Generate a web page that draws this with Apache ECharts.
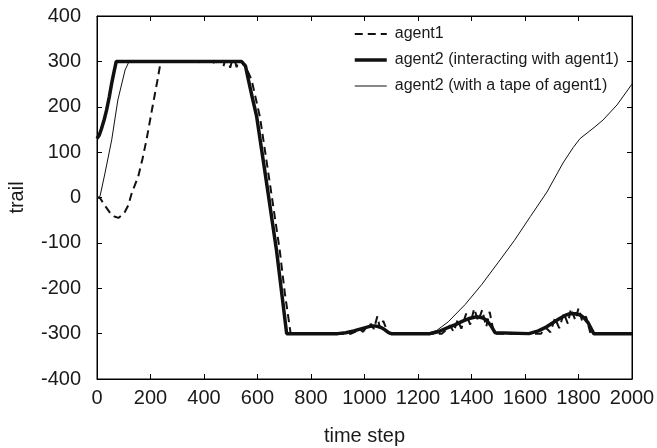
<!DOCTYPE html>
<html><head><meta charset="utf-8">
<script src="https://cdn.jsdelivr.net/npm/echarts@6/dist/echarts.min.js"></script>
<style>html,body{margin:0;padding:0;background:#fff}#c{width:657px;height:448px}</style>
</head><body><div id="c"></div>
<script>
// ---- data ----
const seriesNames = ['agent1', 'agent2 (interacting with agent1)', 'agent2 (with a tape of agent1)'];
const xTicks = [0,200,400,600,800,1000,1200,1400,1600,1800,2000];
const yTicks = [-400,-300,-200,-100,0,100,200,300,400];

const agent1T = [0,11,30,49,65,80,95,105,117,130,154,170,185,210,225,236,242,
  372,378,384,405,410,416,436,441,447,466,472,478,492,498,504,516,522,528,540,548,556,578,609,646,683,702,724,
  950,965,980,995,1010,1025,1035,1048,1058,1070,1085,1095,
  1290,1305,1320,1333,1348,1362,1380,1395,1410,1425,1440,1455,1468,1484,
  1660,1678,1695,1712,1728,1745,1760,1772,1788,1800,1815,1828,1845,2000];
const agent1V = [0,-1,-18,-34,-42,-45,-38,-31,-17,10,46,85,127,208,255,292,300,
  300,295,300,300,294,300,300,291,300,300,288,300,300,286,300,300,287,300,300,292,288,259,178,32,-116,-210,-300,
  -300,-296,-290,-296,-283,-279,-290,-262,-288,-272,-294,-300,
  -300,-292,-282,-296,-270,-289,-256,-280,-245,-272,-248,-285,-252,-300,
  -300,-287,-297,-266,-288,-255,-278,-245,-270,-244,-275,-262,-300,-300];

const agent2T = [0,8,17,27,36,46,55,64,72,
  540,555,566,580,597,615,634,652,671,690,709,
  900,930,960,990,1020,1040,1060,1075,1090,1100,
  1245,1275,1307,1340,1369,1395,1419,1440,1456,1472,1488,1495,
  1615,1650,1681,1710,1731,1750,1768,1790,1806,1822,1837,1850,1857,2000];
const agent2V = [130,137,152,172,193,222,252,278,300,
  300,290,259,222,178,107,32,-40,-116,-208,-300,
  -300,-298,-294,-289,-284,-283,-286,-291,-298,-300,
  -300,-296,-288,-280,-272,-266,-263,-265,-270,-282,-298,-300,
  -300,-294,-285,-274,-266,-260,-256,-256,-259,-266,-277,-292,-300,-300];

const tapeT = [0,11,30,55,78,105,120,
  540,555,566,580,597,615,634,652,671,690,709,
  900,930,960,990,1020,1040,1060,1075,1090,1100,
  1230,1270,1313,1376,1438,1500,1560,1620,1682,1742,1780,1806,1832,1862,1892,1944,2000];
const tapeV = [0,2,54,127,215,281,300,
  300,290,259,222,178,107,32,-40,-116,-208,-300,
  -300,-298,-294,-289,-284,-283,-286,-291,-298,-300,
  -300,-293,-274,-236,-192,-143,-95,-42,12,76,110,130,142,156,171,204,250];

const zip = (t, v) => t.map((x, i) => [x, v[i]]);

const font = 'Liberation Sans, Arial, Helvetica, sans-serif';
const txt = '#1a1a1a';
const chart = echarts.init(document.getElementById('c'), null, {renderer: 'canvas'});

const tickStyle = {show: true, inside: true, length: 5, lineStyle: {color: '#000', width: 1}};
const lineAx = {show: true, onZero: false, lineStyle: {color: '#000', width: 1}};
const widths = [2, 3.5, 1];
chart.setOption({
  animation: false,
  backgroundColor: '#fff',
  grid: {left: 97, top: 16, right: 25, bottom: 69, show: true, borderColor: '#000', borderWidth: 1,
    containLabel: false, outerBoundsMode: 'none'},
  legend: {
    orient: 'vertical', left: 348, top: 21, itemWidth: 32, itemHeight: 14, itemGap: 10,
    data: seriesNames.map((n, i) => ({name: n, lineStyle: {width: widths[i], color: '#111', type: i === 0 ? [8, 5] : 'solid'}})),
    itemStyle: {opacity: 0, borderWidth: 0},
    textStyle: {fontFamily: font, fontSize: 16, color: txt, padding: [0, 0, 0, 3]}
  },
  xAxis: [{
    type: 'value', min: 0, max: 2000, interval: 200, position: 'bottom',
    name: 'time step', nameLocation: 'middle', nameGap: 47,
    nameTextStyle: {fontFamily: font, fontSize: 20, color: txt},
    axisLine: lineAx,
    axisTick: tickStyle,
    axisLabel: {fontFamily: font, fontSize: 20, color: txt, margin: 9,
      formatter: v => xTicks.includes(v) ? String(v) : ''},
    splitLine: {show: false}
  }, {
    type: 'value', min: 0, max: 2000, interval: 200, position: 'top',
    axisLine: lineAx, axisTick: tickStyle,
    axisLabel: {show: false}, splitLine: {show: false}
  }],
  yAxis: [{
    type: 'value', min: -400, max: 400, interval: 100, position: 'left',
    name: 'trail', nameLocation: 'middle', nameGap: 70,
    nameTextStyle: {fontFamily: font, fontSize: 20, color: txt},
    axisLine: lineAx,
    axisTick: tickStyle,
    axisLabel: {fontFamily: font, fontSize: 20, color: txt, margin: 16,
      formatter: v => yTicks.includes(v) ? String(v) : ''},
    splitLine: {show: false}
  }, {
    type: 'value', min: -400, max: 400, interval: 100, position: 'right',
    axisLine: lineAx, axisTick: tickStyle,
    axisLabel: {show: false}, splitLine: {show: false}
  }],
  series: [
    {name: seriesNames[0], type: 'line', data: zip(agent1T, agent1V), showSymbol: false, symbol: 'none',
      lineStyle: {color: '#111', width: widths[0], type: [8, 5]}, itemStyle: {color: '#111'}, z: 3},
    {name: seriesNames[1], type: 'line', data: zip(agent2T, agent2V), showSymbol: false, symbol: 'none',
      lineStyle: {color: '#111', width: widths[1]}, itemStyle: {color: '#111'}, z: 4},
    {name: seriesNames[2], type: 'line', data: zip(tapeT, tapeV), showSymbol: false, symbol: 'none',
      lineStyle: {color: '#111', width: widths[2]}, itemStyle: {color: '#111'}, z: 2}
  ]
});
</script></body></html>
